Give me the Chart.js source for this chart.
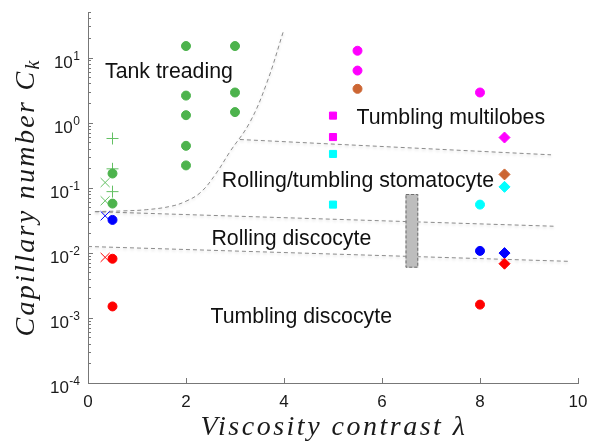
<!DOCTYPE html>
<html>
<head>
<meta charset="utf-8">
<script src="https://cdn.jsdelivr.net/npm/chart.js@4.4.1/dist/chart.umd.min.js"></script>
<style>
  html, body { margin: 0; padding: 0; background: #fff; }
  #wrap { width: 589px; height: 443px; }
</style>
</head>
<body>
<div id="wrap"><canvas id="phaseChart"></canvas></div>
<script>
// Simulation runs: viscosity contrast (x) vs capillary number (y)
const tankCircleX = [0.5, 0.5, 2, 2, 2, 2, 2, 3, 3, 3];
const tankCircleY = [0.165, 0.057, 15, 2.6, 1.3, 0.44, 0.22, 15, 2.9, 1.45];
const tankPlusX = [0.5, 0.5, 0.5];
const tankPlusY = [0.57, 0.195, 0.087];
const tankCrossX = [0.35, 0.35];
const tankCrossY = [0.12, 0.063];
const rollingCrossX = [0.35];
const rollingCrossY = [0.037];
const tumblingCrossX = [0.35];
const tumblingCrossY = [0.0085];
const rollingCircleX = [0.5, 8];
const rollingCircleY = [0.032, 0.0107];
const tumblingCircleX = [0.5, 0.5, 8];
const tumblingCircleY = [0.0081, 0.0015, 0.0016];
const multilobeCircleX = [5.5, 5.5, 8];
const multilobeCircleY = [12.7, 6.3, 2.9];
const trilobeCircleX = [5.5];
const trilobeCircleY = [3.3];
const multilobeSquareX = [5, 5];
const multilobeSquareY = [1.28, 0.6];
const stomatoSquareX = [5, 5];
const stomatoSquareY = [0.33, 0.055];
const stomatoCircleX = [8];
const stomatoCircleY = [0.055];
const diamondX = [8.5, 8.5, 8.5, 8.5, 8.5];
const diamondY = [0.59, 0.16, 0.103, 0.0099, 0.0068];
const diamondColors = ['#ff00ff', '#cc6633', '#00ffff', '#0000ff', '#ff0000'];

// Phase boundaries
const tankBoundaryX = [0.15, 0.7, 1.2, 1.7, 2.0, 2.3, 2.6, 2.9, 3.3, 3.65, 4.0];
const tankBoundaryY = [0.043, 0.044, 0.046, 0.052, 0.062, 0.085, 0.16, 0.36, 1.0, 4.1, 27];
const multilobeBoundaryX = [3.1, 9.45];
const multilobeBoundaryY = [0.55, 0.32];
const stomatoBoundaryX = [0.14, 9.5];
const stomatoBoundaryY = [0.0428, 0.0256];
const discoBoundaryX = [0, 9.8];
const discoBoundaryY = [0.0125, 0.0074];

// Transition band between rolling and tumbling
const bandX = [6.48, 6.74];
const bandY = [0.0059, 0.08];

// Region names, anchored at their left baseline in data units
const regionNames = ['Tank treading', 'Tumbling multilobes', 'Rolling/tumbling stomatocyte', 'Rolling discocyte', 'Tumbling discocyte'];
const regionX = [0.347, 5.48, 2.73, 2.52, 2.50];
const regionY = [4.76, 0.96, 0.1026, 0.0131, 0.000824];

const toPoints = (xs, ys) => xs.map((x, i) => ({ x: x, y: ys[i] }));

function markers(xs, ys, style, color, radius) {
  return {
    data: toPoints(xs, ys),
    pointStyle: style,
    pointRadius: radius,
    pointBackgroundColor: color,
    pointBorderColor: color,
    pointBorderWidth: 1,
    showLine: false,
    order: 1
  };
}

function boundary(xs, ys, tension) {
  return {
    data: toPoints(xs, ys),
    showLine: true,
    boundary: true,
    borderColor: '#8c8c8c',
    borderWidth: 1,
    borderDash: [4, 3],
    pointRadius: 0,
    tension: tension || 0,
    fill: false,
    order: 2
  };
}

const datasets = [
  markers(tankCircleX, tankCircleY, 'circle', '#4db34d', 4.5),
  markers(tankPlusX, tankPlusY, 'cross', '#63c063', 6),
  markers(tankCrossX, tankCrossY, 'crossRot', '#63c063', 6.4),
  markers(rollingCrossX, rollingCrossY, 'crossRot', '#0000ff', 6.4),
  markers(tumblingCrossX, tumblingCrossY, 'crossRot', '#ff0000', 6.4),
  markers(rollingCircleX, rollingCircleY, 'circle', '#0000ff', 4.5),
  markers(tumblingCircleX, tumblingCircleY, 'circle', '#ff0000', 4.5),
  markers(multilobeCircleX, multilobeCircleY, 'circle', '#ff00ff', 4.5),
  markers(trilobeCircleX, trilobeCircleY, 'circle', '#cc6633', 4.5),
  markers(multilobeSquareX, multilobeSquareY, 'rect', '#ff00ff', 5),
  markers(stomatoSquareX, stomatoSquareY, 'rect', '#00ffff', 5),
  markers(stomatoCircleX, stomatoCircleY, 'circle', '#00ffff', 4.5),
  {
    data: toPoints(diamondX, diamondY),
    pointStyle: 'rectRot',
    pointRadius: 5.5,
    pointBackgroundColor: diamondColors,
    pointBorderColor: diamondColors,
    pointBorderWidth: 1,
    showLine: false,
    order: 1
  },
  boundary(tankBoundaryX, tankBoundaryY, 0.4),
  boundary(multilobeBoundaryX, multilobeBoundaryY),
  boundary(stomatoBoundaryX, stomatoBoundaryY),
  boundary(discoBoundaryX, discoBoundaryY)
];

const SERIF = 'italic 28px "Liberation Serif", "Times New Roman", serif';
const SANS = '"Liberation Sans", Arial, Helvetica, sans-serif';

// Extra drawing: soft shadow under boundaries, band, labels, inward ticks, titles
const decorations = {
  id: 'decorations',
  beforeDatasetDraw(chart, args) {
    if (chart.data.datasets[args.index].boundary) {
      const ctx = chart.ctx;
      ctx.save();
      ctx.shadowColor = 'rgba(0,0,0,0.18)';
      ctx.shadowBlur = 3;
      ctx.shadowOffsetY = 1.5;
    }
  },
  afterDatasetDraw(chart, args) {
    if (chart.data.datasets[args.index].boundary) chart.ctx.restore();
  },
  afterDatasetsDraw(chart) {
    const ctx = chart.ctx;
    const xs = chart.scales.x, ys = chart.scales.y;

    // transition band
    const bx0 = xs.getPixelForValue(bandX[0]), bx1 = xs.getPixelForValue(bandX[1]);
    const by0 = ys.getPixelForValue(bandY[1]), by1 = ys.getPixelForValue(bandY[0]);
    ctx.save();
    ctx.fillStyle = '#bdbdbd';
    ctx.fillRect(bx0, by0, bx1 - bx0, by1 - by0);
    ctx.strokeStyle = '#6e6e6e';
    ctx.lineWidth = 1;
    ctx.setLineDash([3, 2]);
    ctx.strokeRect(bx0 + 0.5, by0 + 0.5, bx1 - bx0 - 1, by1 - by0 - 1);
    ctx.restore();

    // region names
    ctx.save();
    ctx.fillStyle = '#111';
    ctx.font = '21.3px ' + SANS;
    ctx.textAlign = 'left';
    ctx.textBaseline = 'alphabetic';
    regionNames.forEach((name, i) => {
      ctx.fillText(name, xs.getPixelForValue(regionX[i]), ys.getPixelForValue(regionY[i]));
    });
    ctx.restore();
  },
  afterDraw(chart) {
    const ctx = chart.ctx;
    const area = chart.chartArea;
    const xs = chart.scales.x, ys = chart.scales.y;
    ctx.save();
    ctx.strokeStyle = '#777';
    ctx.lineWidth = 1;

    // y ticks: majors at decades, minors in between
    const e0 = Math.floor(Math.log10(ys.min)), e1 = Math.ceil(Math.log10(ys.max));
    ctx.beginPath();
    for (let e = e0; e <= e1; e++) {
      for (let m = 1; m <= 9; m++) {
        const v = m * Math.pow(10, e);
        if (v < ys.min * 0.999 || v > ys.max * 1.001) continue;
        const py = Math.round(ys.getPixelForValue(v)) + 0.5;
        ctx.moveTo(area.left, py);
        ctx.lineTo(area.left + (m === 1 ? 5 : 3), py);
      }
    }
    // x ticks
    xs.ticks.forEach(t => {
      const px = Math.round(xs.getPixelForValue(t.value)) + 0.5;
      ctx.moveTo(px, area.bottom);
      ctx.lineTo(px, area.bottom - 5);
    });
    ctx.stroke();

    // y tick labels as 10 with a raised exponent
    ctx.fillStyle = '#1a1a1a';
    ctx.textAlign = 'right';
    ctx.textBaseline = 'alphabetic';
    for (let e = e0; e <= e1; e++) {
      const v = Math.pow(10, e);
      if (v < ys.min * 0.999 || v > ys.max * 1.001) continue;
      const py = ys.getPixelForValue(v);
      const exp = String(e);
      ctx.font = '12px ' + SANS;
      const ew = ctx.measureText(exp).width;
      ctx.fillText(exp, area.left - 8, py + 2);
      ctx.font = '17px ' + SANS;
      ctx.fillText('10', area.left - 8 - ew - 0.5, py + 10);
    }

    // axis titles
    ctx.fillStyle = '#1a1a1a';
    ctx.letterSpacing = '2.5px';
    ctx.font = SERIF;
    ctx.textAlign = 'center';
    ctx.fillText('Viscosity contrast \u03bb', (area.left + area.right) / 2 + 1, 435);

    ctx.letterSpacing = '2.3px';
    ctx.translate(34, (area.top + area.bottom) / 2);
    ctx.rotate(-Math.PI / 2);
    ctx.textAlign = 'left';
    const main = 'Capillary number C';
    const wMain = ctx.measureText(main).width;
    ctx.font = 'italic 20px "Liberation Serif", "Times New Roman", serif';
    const wSub = ctx.measureText('k').width;
    const start = -(wMain + wSub) / 2;
    ctx.fillText('k', start + wMain, 5);
    ctx.font = SERIF;
    ctx.fillText(main, start, 0);
    ctx.restore();
  }
};

new Chart(document.getElementById('phaseChart'), {
  type: 'scatter',
  data: { datasets: datasets },
  options: {
    responsive: true,
    maintainAspectRatio: false,
    animation: false,
    layout: { padding: { top: 12, right: 11, left: 0, bottom: 0 } },
    plugins: {
      legend: { display: false },
      tooltip: { enabled: false },
      title: { display: false }
    },
    scales: {
      x: {
        type: 'linear',
        min: 0,
        max: 10,
        afterFit: s => { s.height = 60; s.paddingLeft = 0; s.paddingRight = 0; },
        grid: { display: false, drawTicks: false },
        border: { display: true, color: '#777', width: 1 },
        ticks: {
          stepSize: 2,
          padding: 9,
          color: '#1a1a1a',
          font: { family: SANS, size: 17 }
        }
      },
      y: {
        type: 'logarithmic',
        min: 1e-4,
        max: 50,
        afterFit: s => { s.width = 88; s.paddingTop = 0; s.paddingBottom = 0; },
        grid: { display: false, drawTicks: false },
        border: { display: true, color: '#777', width: 1 },
        ticks: { display: false }
      }
    }
  },
  plugins: [decorations]
});
</script>
</body>
</html>
